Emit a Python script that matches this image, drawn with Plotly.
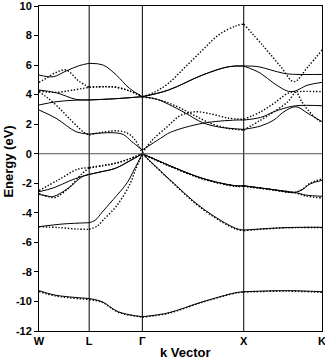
import plotly.graph_objects as go

# high-symmetry points (k position along path, label)
K_NODES = [0, 50, 103, 204, 282]
K_LABELS = ["W", "L", "Γ", "X", "K"]
Y_TICKS = [-12, -10, -8, -6, -4, -2, 0, 2, 4, 6, 8, 10]

# ---------- solid-line calculation: bands, each a list of legs (W-L, L-Γ, Γ-X, X-K) ----------
S_CORE = [[(0, -9.27), (16, -9.57), (50, -9.8)],
          [(50, -9.8), (63, -10.02), (79, -10.7), (103, -11.03)],
          [(103, -11.03), (129, -10.77), (163, -10.02), (196, -9.41), (204, -9.34)],
          [(204, -9.34), (246, -9.27), (282, -9.34)]]
S_VAL1 = [[(0, -4.94), (25, -4.75), (50, -4.67)],
          [(50, -4.67), (56, -4.5), (63, -3.95), (74, -3.1), (88, -1.95), (95, -1.05), (103, 0)],
          [(103, 0), (129, -1.67), (163, -3.7), (196, -5.05), (204, -5.17)],
          [(204, -5.17), (246, -5.0), (282, -4.98)]]
S_VAL2 = [[(0, -2.57), (15, -2.3), (30, -1.85), (42, -1.55), (50, -1.4)],
          [(50, -1.4), (62, -1.22), (76, -0.99), (90, -0.5), (103, 0)],
          [(103, 0), (129, -0.77), (163, -1.67), (196, -2.17), (204, -2.17)],
          [(204, -2.17), (230, -2.4), (254, -2.62), (262, -2.45), (270, -2.05), (282, -1.8)]]
S_VAL3 = [[(0, -2.75), (8, -2.86), (14, -2.9), (29, -2.34), (43, -1.56), (50, -1.4)],
          [(50, -1.4), (62, -1.22), (76, -0.99), (90, -0.5), (103, 0)],
          [(103, 0), (129, -0.77), (163, -1.67), (196, -2.17), (204, -2.17)],
          [(204, -2.17), (230, -2.4), (256, -2.64), (266, -2.8), (282, -2.88)]]
S_CON1 = [[(0, 2.96), (17, 2.4), (37, 1.49), (50, 1.33)],
          [(50, 1.33), (62, 1.4), (74, 1.42), (84, 1.3), (92, 0.85), (103, 0.25)],
          [(103, 0.25), (121, 1.04), (131, 1.45), (163, 2.06), (196, 2.28), (204, 2.28)],
          [(204, 2.28), (221, 2.46), (234, 2.84), (244, 3.07), (256, 3.25), (282, 3.25)]]
S_CON2 = [[(0, 3.3), (17, 3.52), (35, 3.62), (50, 3.64)],
          [(50, 3.64), (75, 3.72), (103, 3.86)],
          [(103, 3.86), (118, 3.68), (129, 3.35), (146, 2.75), (163, 2.1), (180, 1.8), (204, 1.65)],
          [(204, 1.65), (221, 1.88), (234, 2.28), (244, 2.84), (256, 3.18), (268, 2.73), (282, 2.17)]]
S_CON3 = [[(0, 4.31), (17, 4.13), (37, 3.68), (50, 3.64)],
          [(50, 3.64), (75, 3.72), (103, 3.86)],
          [(103, 3.86), (129, 4.31), (163, 5.33), (189, 5.89), (204, 5.94)],
          [(204, 5.94), (221, 5.44), (234, 4.77), (251, 4.2), (268, 4.65), (282, 4.83)]]
S_CON4 = [[(0, 5.33), (14, 5.21), (27, 5.6), (40, 5.96), (50, 6.12)],
          [(50, 6.12), (64, 6.0), (77, 5.33), (90, 4.43), (103, 3.86)],
          [(103, 3.86), (129, 4.31), (163, 5.33), (189, 5.89), (204, 5.94)],
          [(204, 5.94), (218, 5.9), (231, 5.67), (244, 5.44), (256, 5.37), (282, 5.37)]]

# ---------- dotted-line calculation ----------
D_CORE = [[(0, -9.33), (16, -9.62), (50, -9.87)],
          [(50, -9.87), (63, -10.06), (79, -10.73), (103, -11.06)],
          [(103, -11.06), (129, -10.8), (163, -10.05), (196, -9.43), (204, -9.37)],
          [(204, -9.37), (246, -9.3), (282, -9.38)]]
D_VAL1 = [[(0, -4.94), (20, -5.0), (38, -5.1), (50, -5.12)],
          [(50, -5.12), (58, -4.9), (64, -4.49), (78, -3.47), (91, -2.0), (96, -1.1), (103, 0)],
          [(103, 0), (129, -1.7), (163, -3.75), (196, -5.1), (204, -5.2)],
          [(204, -5.2), (246, -5.02), (282, -5.0)]]
D_VAL2 = [[(0, -2.5), (19, -1.78), (39, -1.04), (50, -0.95)],
          [(50, -0.95), (64, -0.8), (76, -0.65), (90, -0.35), (103, 0)],
          [(103, 0), (129, -0.8), (163, -1.7), (196, -2.2), (204, -2.2)],
          [(204, -2.2), (230, -2.42), (254, -2.62), (262, -2.42), (270, -2.0), (282, -1.7)]]
D_VAL3 = [[(0, -2.7), (10, -2.92), (16, -2.96), (30, -2.3), (42, -1.4), (50, -0.95)],
          [(50, -0.95), (64, -0.8), (76, -0.65), (90, -0.35), (103, 0)],
          [(103, 0), (129, -0.8), (163, -1.7), (196, -2.2), (204, -2.2)],
          [(204, -2.2), (230, -2.42), (256, -2.66), (266, -2.86), (282, -3.0)]]
D_CON1 = [[(0, 4.2), (7, 3.86), (17, 3.3), (30, 2.4), (44, 1.49), (50, 1.27)],
          [(50, 1.27), (63, 1.45), (78, 1.55), (88, 1.4), (95, 1.0), (103, 0.05)],
          [(103, 0.05), (113, 0.93), (129, 1.9), (140, 2.55), (155, 2.84), (171, 2.7), (188, 2.42), (204, 2.33)],
          [(204, 2.33), (221, 2.84), (234, 3.41), (248, 4.09), (256, 4.2), (282, 4.2)]]
D_CON2 = [[(0, 4.25), (17, 4.15), (33, 4.3), (50, 4.5)],
          [(50, 4.5), (66, 4.54), (77, 4.5), (90, 4.25), (103, 3.86)],
          [(103, 3.86), (121, 3.63), (138, 3.18), (154, 2.62), (171, 2.06), (188, 1.72), (204, 1.6)],
          [(204, 1.6), (221, 2.28), (234, 2.84), (248, 3.52), (256, 4.15), (262, 3.5), (268, 2.96), (278, 2.28), (282, 2.17)]]
D_CON3 = [[(0, 4.83), (8, 5.15), (17, 5.5), (27, 5.67), (40, 4.9), (50, 4.5)],
          [(50, 4.5), (66, 4.54), (77, 4.5), (90, 4.25), (103, 3.86)],
          [(103, 3.86), (116, 4.2), (129, 4.77), (146, 5.89), (163, 7.02), (179, 8.04), (196, 8.65), (204, 8.78)],
          [(204, 8.78), (224, 7.25), (241, 5.89), (254, 4.88), (268, 5.89), (282, 7.02)]]

SOLID_BANDS = [S_CORE, S_VAL1, S_VAL2, S_VAL3, S_CON1, S_CON2, S_CON3, S_CON4]
DOTTED_BANDS = [D_CORE, D_VAL1, D_VAL2, D_VAL3, D_CON1, D_CON2, D_CON3]


def flatten(bands):
    xs, ys = [], []
    for band in bands:
        for leg in band:
            for k, e in leg:
                xs.append(k)
                ys.append(e)
            xs.append(None)
            ys.append(None)
    return xs, ys


fig = go.Figure()
sx, sy = flatten(SOLID_BANDS)
dx, dy = flatten(DOTTED_BANDS)
fig.add_trace(go.Scatter(x=dx, y=dy, mode="lines", connectgaps=False,
                         line=dict(color="black", width=1.4, dash="1.4px,1.8px", shape="spline", smoothing=1.0),
                         showlegend=False, hoverinfo="skip"))
fig.add_trace(go.Scatter(x=sx, y=sy, mode="lines", connectgaps=False,
                         line=dict(color="black", width=1, shape="spline", smoothing=1.0),
                         showlegend=False, hoverinfo="skip"))

shapes = []
for k in K_NODES[1:-1]:
    shapes.append(dict(type="line", xref="x", yref="paper", x0=k, x1=k, y0=0, y1=1,
                       line=dict(color="black", width=1)))
shapes.append(dict(type="line", xref="paper", yref="y", x0=0, x1=1, y0=0, y1=0,
                   line=dict(color="#555555", width=1)))

FONT = "Liberation Sans, Arial, sans-serif"
fig.update_layout(
    width=325, height=360,
    margin=dict(l=39, r=3, t=6, b=29),
    paper_bgcolor="white", plot_bgcolor="white",
    shapes=shapes,
    xaxis=dict(range=[K_NODES[0], K_NODES[-1]], tickmode="array", tickvals=K_NODES, ticktext=K_LABELS,
               showgrid=False, zeroline=False, showline=True, mirror=True, linecolor="black", linewidth=1,
               ticks="", ticklabeloverflow="allow",
               tickfont=dict(family=FONT, size=11, color="black", weight="bold"),
               automargin=False, fixedrange=True),
    yaxis=dict(range=[-12, 10], tickmode="array", tickvals=Y_TICKS, ticktext=[str(v) for v in Y_TICKS],
               showgrid=False, zeroline=False, showline=True, mirror=True, linecolor="black", linewidth=1,
               ticks="outside", ticklen=4, tickcolor="black", ticklabeloverflow="allow",
               tickfont=dict(family=FONT, size=11, color="black", weight="bold"),
               automargin=False, fixedrange=True),
    annotations=[
        dict(text="k Vector", xref="paper", yref="paper", x=0.5177, y=-0.066, showarrow=False,
             xanchor="center", yanchor="middle", font=dict(family=FONT, size=13, color="black", weight="bold")),
        dict(text="Energy (eV)", xref="paper", yref="paper", x=-0.111, y=0.52, showarrow=False, textangle=-90,
             xanchor="center", yanchor="middle", font=dict(family=FONT, size=13, color="black", weight="bold")),
    ],
)

fig.write_html("out.html", config={"displayModeBar": False},
               post_script="document.body.style.margin='0';document.body.style.overflow='hidden';")
